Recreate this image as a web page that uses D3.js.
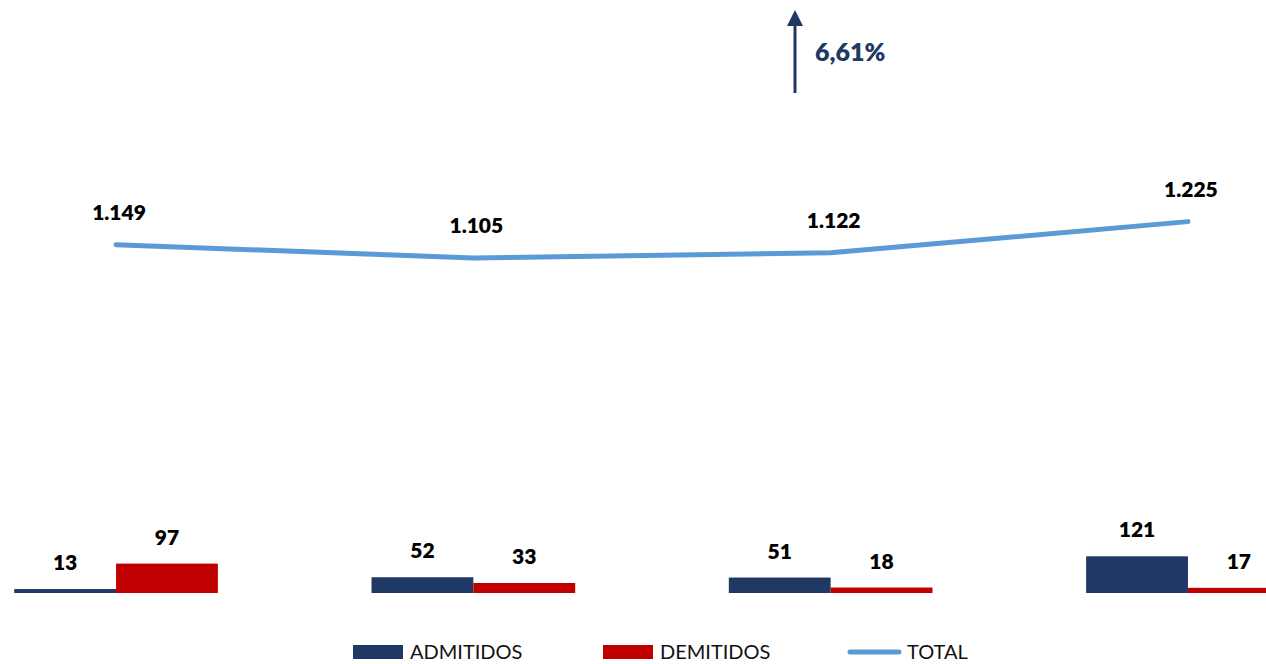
<!DOCTYPE html>
<html>
<head>
<meta charset="utf-8">
<script src="https://cdn.jsdelivr.net/npm/d3@7"></script>
<style>
  body { margin: 0; background: #fff; }
  text { font-family: Lato, "Open Sans", sans-serif; }
</style>
</head>
<body>
<div id="chart"></div>
<script>
const categories = ['P1', 'P2', 'P3', 'P4']
const admitidos = [13, 52, 51, 121]
const demitidos = [97, 33, 18, 17]
const total = [1149, 1105, 1122, 1225]
const variacao = '6,61%'
const seriesNames = ['ADMITIDOS', 'DEMITIDOS', 'TOTAL']

const W = 1266, H = 664
const navy = '#203864', red = '#c00000', blue = '#5b9bd5'

const svg = d3.select('#chart').append('svg')
  .attr('width', W)
  .attr('height', H)

// category bands (plot area is cut at the left edge in the original)
const x = d3.scaleBand()
  .domain(categories)
  .range([-62.6, 1366.6])
  .paddingInner(0.43)
  .paddingOuter(0.215)

const sub = d3.scaleBand()
  .domain(['a', 'd'])
  .range([0, x.bandwidth()])

const y = d3.scaleLinear()
  .domain([0, 1900])
  .range([593, 17])

const fmt = v => d3.format(',')(v).replace(/,/g, '.')

// bars
const groups = svg.append('g').selectAll('g')
  .data(categories)
  .join('g')
  .attr('transform', d => 'translate(' + x(d) + ',0)')

groups.append('rect')
  .attr('x', sub('a'))
  .attr('width', sub.bandwidth())
  .attr('y', (d, i) => y(admitidos[i]))
  .attr('height', (d, i) => y(0) - y(admitidos[i]))
  .attr('fill', navy)

groups.append('rect')
  .attr('x', sub('d'))
  .attr('width', sub.bandwidth())
  .attr('y', (d, i) => y(demitidos[i]))
  .attr('height', (d, i) => y(0) - y(demitidos[i]))
  .attr('fill', red)

groups.append('text')
  .attr('x', sub('a') + sub.bandwidth() / 2)
  .attr('y', (d, i) => y(admitidos[i]) - 19)
  .attr('text-anchor', 'middle')
  .style('font-weight', 800)
  .style('font-size', '21px')
  .text((d, i) => admitidos[i])

groups.append('text')
  .attr('x', sub('d') + sub.bandwidth() / 2)
  .attr('y', (d, i) => y(demitidos[i]) - 19)
  .attr('text-anchor', 'middle')
  .style('font-weight', 800)
  .style('font-size', '21px')
  .text((d, i) => demitidos[i])

// total line
const cx = d => x(d) + x.bandwidth() / 2
const line = d3.line()
  .x((d, i) => cx(categories[i]))
  .y(d => y(d))

svg.append('path')
  .datum(total)
  .attr('d', line)
  .attr('fill', 'none')
  .attr('stroke', blue)
  .attr('stroke-width', 5)
  .attr('stroke-linecap', 'round')
  .attr('stroke-linejoin', 'round')

svg.append('g').selectAll('text')
  .data(total)
  .join('text')
  .attr('x', (d, i) => cx(categories[i]) + 3)
  .attr('y', d => y(d) - 25)
  .attr('text-anchor', 'middle')
  .style('font-weight', 800)
  .style('font-size', '21px')
  .text(d => fmt(d))

// growth arrow
svg.append('defs').append('marker')
  .attr('id', 'head')
  .attr('viewBox', '0 0 10 10')
  .attr('refX', 5).attr('refY', 5)
  .attr('markerWidth', 16).attr('markerHeight', 16)
  .attr('markerUnits', 'userSpaceOnUse')
  .attr('orient', 'auto')
  .append('path')
  .attr('d', 'M0,0 L10,5 L0,10 Z')
  .attr('fill', navy)

svg.append('line')
  .attr('x1', 795).attr('y1', 93)
  .attr('x2', 795).attr('y2', 18)
  .attr('stroke', navy)
  .attr('stroke-width', 3)
  .attr('marker-end', 'url(#head)')

svg.append('text')
  .attr('x', 815).attr('y', 61)
  .attr('fill', navy)
  .style('font-weight', 800)
  .style('font-size', '25px')
  .text(variacao)

// legend
const legX = [353, 603, 848]
const legend = svg.append('g').selectAll('g')
  .data(seriesNames)
  .join('g')
  .attr('transform', (d, i) => 'translate(' + legX[i] + ',652)')

legend.filter((d, i) => i < 2).append('rect')
  .attr('x', 0).attr('y', -7)
  .attr('width', 50).attr('height', 14)
  .attr('fill', (d, i) => i == 0 ? navy : red)

legend.filter((d, i) => i == 2).append('line')
  .attr('x1', 2).attr('x2', 51)
  .attr('stroke', blue)
  .attr('stroke-width', 5)
  .attr('stroke-linecap', 'round')

legend.append('text')
  .attr('x', (d, i) => i == 2 ? 59 : 57)
  .attr('y', 7)
  .style('font-size', '20px')
  .attr('fill', '#111')
  .text(d => d)
</script>
</body>
</html>
